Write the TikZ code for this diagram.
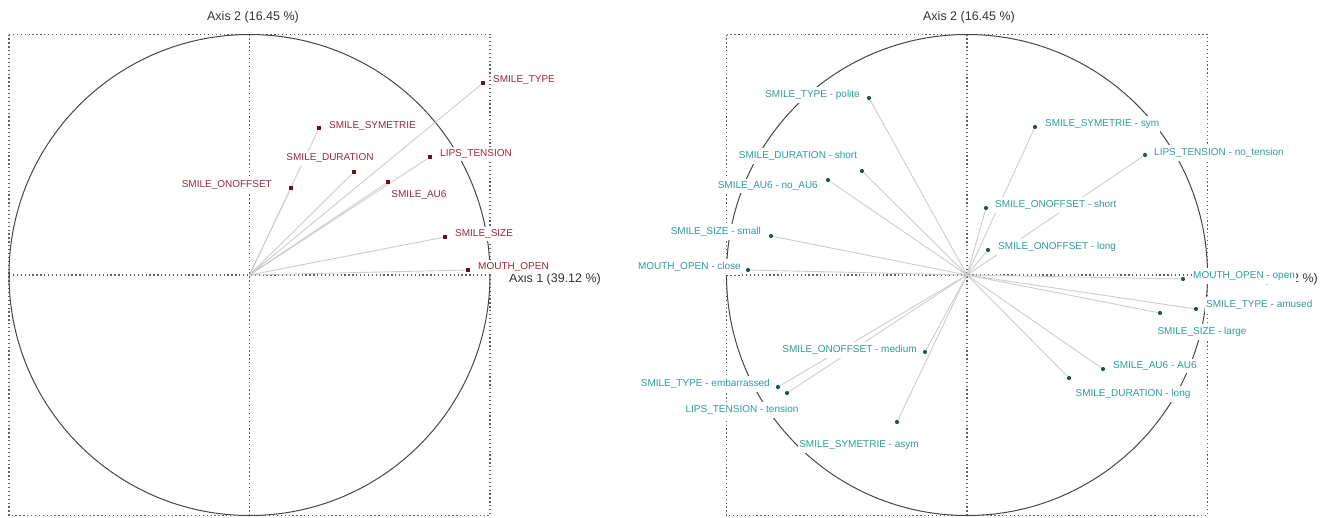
\documentclass[tikz,border=0pt]{standalone}
\usepackage{fontspec}
\setmainfont{Liberation Sans}

\definecolor{ptred}{HTML}{6E0F1C}
\definecolor{labred}{HTML}{9A2A3A}
\definecolor{ptteal}{HTML}{1E5A52}
\definecolor{labteal}{HTML}{2F9C9A}
\definecolor{spokegray}{HTML}{CDCDCD}
\definecolor{framegray}{HTML}{606060}

% point name / x / y / label anchor / label x / label y / text
\def\leftvars{ltype/483/83/west/492/80/SMILE\_TYPE,
    lsym/319/128/west/328/126/SMILE\_SYMETRIE,
    ltens/430/157/west/439/154/LIPS\_TENSION,
    ldur/354/172/center/330/158/SMILE\_DURATION,
    lau/388/182/center/419/195/SMILE\_AU6,
    lonoff/291/188/east/273/185/SMILE\_ONOFFSET,
    lsize/445/237/west/454/234/SMILE\_SIZE,
    lmouth/468/270/west/477/267/MOUTH\_OPEN}
\def\rightvars{rpolite/869/98/east/861/95/SMILE\_TYPE - polite,
    rdshort/862/171/center/798/156/SMILE\_DURATION - short,
    rnoau/828/180/east/819/186/SMILE\_AU6 - no\_AU6,
    rsmall/771/236/east/762/232/SMILE\_SIZE - small,
    rclose/748/270/east/742/267/MOUTH\_OPEN - close,
    rmedium/925/352/east/918/350/SMILE\_ONOFFSET - medium,
    rembar/778/387/east/771/384/SMILE\_TYPE - embarrassed,
    rtension/787/393/center/742/410/LIPS\_TENSION - tension,
    rasym/897/422/center/859/445/SMILE\_SYMETRIE - asym,
    rsym/1035/127/west/1044/124/SMILE\_SYMETRIE - sym,
    rnotens/1145/155/west/1153/153/LIPS\_TENSION - no\_tension,
    rshort/986/208/west/994/205/SMILE\_ONOFFSET - short,
    rlong/988/250/west/997/247/SMILE\_ONOFFSET - long,
    ropen/1183/279/west/1192/276/MOUTH\_OPEN - open,
    ramused/1196/309/west/1205/305/SMILE\_TYPE - amused,
    rlarge/1160/313/center/1202/332/SMILE\_SIZE - large,
    rau/1103/369/west/1112/366/SMILE\_AU6 - AU6,
    rdlong/1069/378/center/1133/394/SMILE\_DURATION - long}

\begin{document}
\begin{tikzpicture}[x=1pt, y=-1pt,
    frame/.style={draw=framegray, line width=1.3pt, dash pattern=on 1.3pt off 2.6pt},
    unit/.style={draw=black!72, line width=1pt},
    spoke/.style={draw=spokegray, line width=0.9pt},
    axlab/.style={text=black!80, font=\fontsize{12.5}{14}\selectfont, inner sep=0pt},
    lpt/.style={fill=ptred, rectangle, minimum size=4.5pt, inner sep=0pt},
    rpt/.style={fill=ptteal, circle, minimum size=4.2pt, inner sep=0pt},
    llab/.style={text=labred, fill=white, font=\fontsize{10}{12}\selectfont, inner xsep=1pt, inner ysep=3pt},
    rlab/.style={text=labteal, fill=white, font=\fontsize{10}{12}\selectfont, inner xsep=1pt, inner ysep=3pt}]
    \useasboundingbox (0,0) rectangle (1336,517);

    % left circle
    \coordinate (lo) at (249.5,275);
    \draw[frame] (9,34.5) rectangle (490,515.5);
    \draw[frame] (9,275) -- (490,275);
    \draw[frame] (249.5,34.5) -- (249.5,515.5);
    \draw[unit] (lo) circle[radius=240.5];
    \node[axlab] (lax2) at (253,17) {Axis 2 (16.45 \%)};
    \node[axlab, anchor=west] (lax1) at (509,279) {Axis 1 (39.12 \%)};
    \foreach \nm/\px/\py/\an/\lx/\ly/\txt in \leftvars
        {\node[lpt] (\nm) at (\px,\py) {};
         \draw[spoke] (lo) -- (\nm);}
    \foreach \nm/\px/\py/\an/\lx/\ly/\txt in \leftvars
        {\node[llab, anchor=\an] (\nm-t) at (\lx,\ly) {\txt};}

    % right circle
    \coordinate (ro) at (967,275);
    \draw[frame] (726.5,34.5) rectangle (1207.5,515.5);
    \draw[frame] (726.5,275) -- (1207.5,275);
    \draw[frame] (967,34.5) -- (967,515.5);
    \draw[unit] (ro) circle[radius=240.5];
    \node[axlab] (rax2) at (969,17) {Axis 2 (16.45 \%)};
    \node[axlab, anchor=west] (rax1) at (1226,279) {Axis 1 (39.12 \%)};
    \foreach \nm/\px/\py/\an/\lx/\ly/\txt in \rightvars
        {\node[rpt] (\nm) at (\px,\py) {};
         \draw[spoke] (ro) -- (\nm);}
    \foreach \nm/\px/\py/\an/\lx/\ly/\txt in \rightvars
        {\node[rlab, anchor=\an] (\nm-t) at (\lx,\ly) {\txt};}
\end{tikzpicture}
\end{document}
